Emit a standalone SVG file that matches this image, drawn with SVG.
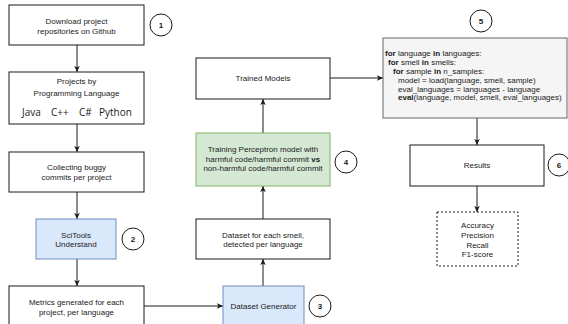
<svg xmlns="http://www.w3.org/2000/svg" width="568" height="324" viewBox="0 0 568 324">
<style>
text{font-family:"Liberation Sans",Arial,sans-serif;font-size:8px;fill:#1a1a1a;text-anchor:middle}
.box{fill:#fff;stroke:#1a1a1a;stroke-width:1}
.blue{fill:#dae8fc;stroke:#6c8ebf;stroke-width:1}
.green{fill:#d5e8d4;stroke:#82b366;stroke-width:1}
.gray{fill:#f5f5f5;stroke:#666;stroke-width:1}
.dash{fill:#fff;stroke:#1a1a1a;stroke-width:1;stroke-dasharray:2 2}
.num{fill:#fff;stroke:#1a1a1a;stroke-width:1}
.n{font-weight:bold}
.lang{font-family:"Open Sans","Liberation Sans",sans-serif;font-size:10px;text-anchor:start}
.code{text-anchor:start}
.b{font-weight:bold}
.c{fill:none;stroke:#1a1a1a;stroke-width:1;marker-end:url(#ah)}
</style>
<defs>
<marker id="ah" viewBox="0 0 8 8" refX="7" refY="4" markerWidth="7" markerHeight="7" markerUnits="userSpaceOnUse" orient="auto">
<path d="M0,0.8 L7,4 L0,7.2 L1.8,4 Z" fill="#1a1a1a"/>
</marker>
</defs>
<g id="connectors">
<path class="c" d="M77,45 V72"/>
<path class="c" d="M77,124 V152"/>
<path class="c" d="M77,192 V219"/>
<path class="c" d="M77,259 V286"/>
<path class="c" d="M144,306 H223"/>
<path class="c" d="M263,286 V259"/>
<path class="c" d="M263,219 V186"/>
<path class="c" d="M263,133 V99"/>
<path class="c" d="M330,78 H383"/>
<path class="c" d="M477,118 V145"/>
<path class="c" d="M477,186 V212"/>
</g>
<g id="download">
<rect class="box" x="9" y="5" width="135" height="40"/>
<text x="76.5" y="23.5">Download project</text>
<text x="76.5" y="33.5">repositories on Github</text>
</g>
<g id="step1"><circle class="num" cx="161" cy="25" r="11"/><text class="n" x="161" y="28">1</text></g>
<g id="projects">
<rect class="box" x="9" y="72" width="135" height="52"/>
<text x="76.5" y="84">Projects by</text>
<text x="76.5" y="96">Programming Language</text>
<text class="lang" x="22" y="116">Java</text>
<text class="lang" x="51" y="116">C++</text>
<text class="lang" x="79" y="116">C#</text>
<text class="lang" x="99" y="116">Python</text>
</g>
<g id="collecting">
<rect class="box" x="9" y="152" width="135" height="40"/>
<text x="76.5" y="170">Collecting buggy</text>
<text x="76.5" y="180">commits per project</text>
</g>
<g id="scitools">
<rect class="blue" x="36" y="219" width="80" height="40"/>
<text x="76" y="238">SciTools</text>
<text x="76" y="247">Understand</text>
</g>
<g id="step2"><circle class="num" cx="133" cy="239" r="11"/><text class="n" x="133" y="242">2</text></g>
<g id="metrics">
<rect class="box" x="9" y="286" width="135" height="42"/>
<text x="76.5" y="305">Metrics generated for each</text>
<text x="76.5" y="315">project, per language</text>
</g>
<g id="datasetgen">
<rect class="blue" x="223" y="286" width="81" height="42"/>
<text x="263.5" y="309">Dataset Generator</text>
</g>
<g id="step3"><circle class="num" cx="320" cy="306" r="11"/><text class="n" x="320" y="309">3</text></g>
<g id="dataset">
<rect class="box" x="196" y="219" width="134" height="40"/>
<text x="263" y="238">Dataset for each smell,</text>
<text x="263" y="247">detected per language</text>
</g>
<g id="training">
<rect class="green" x="196" y="133" width="134" height="53"/>
<text x="263" y="152">Training Perceptron model with</text>
<text x="263" y="162">harmful code/harmful commit <tspan class="b">vs</tspan></text>
<text x="263" y="171">non-harmful code/harmful commit</text>
</g>
<g id="step4"><circle class="num" cx="346" cy="162" r="11"/><text class="n" x="346" y="165">4</text></g>
<g id="trained">
<rect class="box" x="196" y="58" width="134" height="41"/>
<text x="263" y="81">Trained Models</text>
</g>
<g id="code">
<rect class="gray" x="383" y="38" width="184" height="80"/>
<text class="code" x="385" y="56"><tspan class="b">for</tspan> language <tspan class="b">in</tspan> languages:</text>
<text class="code" x="388" y="65"><tspan class="b">for</tspan> smell <tspan class="b">in</tspan> smells:</text>
<text class="code" x="393" y="74"><tspan class="b">for</tspan> sample <tspan class="b">in</tspan> n_samples:</text>
<text class="code" x="398" y="83">model = load(language, smell, sample)</text>
<text class="code" x="398" y="91.5">eval_languages = languages - language</text>
<text class="code" x="398" y="100"><tspan class="b">eval</tspan>(language, model, smell, eval_languages)</text>
</g>
<g id="step5"><circle class="num" cx="481" cy="21" r="11"/><text class="n" x="481" y="24">5</text></g>
<g id="results">
<rect class="box" x="410" y="145" width="134" height="41"/>
<text x="477" y="168">Results</text>
</g>
<g id="step6"><circle class="num" cx="559" cy="165" r="11"/><text class="n" x="559" y="168">6</text></g>
<g id="metricsout">
<rect class="dash" x="437" y="212" width="81" height="54"/>
<text x="477.5" y="228">Accuracy</text>
<text x="477.5" y="238">Precision</text>
<text x="477.5" y="247.5">Recall</text>
<text x="477.5" y="257">F1-score</text>
</g>
</svg>
